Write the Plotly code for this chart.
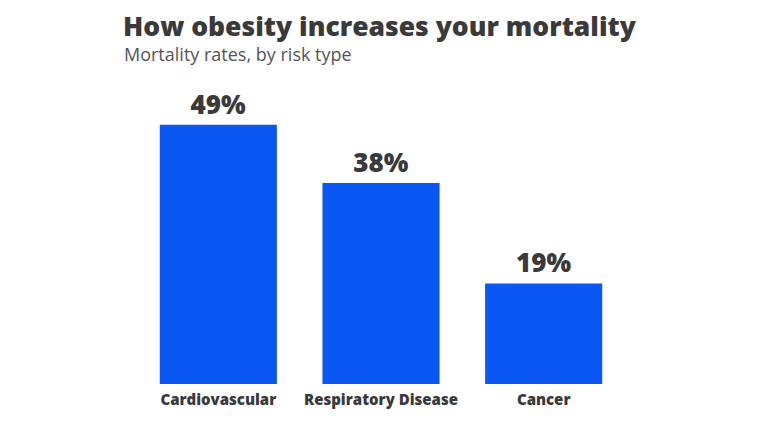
import plotly.graph_objects as go

categories = ["Cardiovascular", "Respiratory Disease", "Cancer"]
values = [49, 38, 19]
value_labels = ["49%", "38%", "19%"]

title_text = "How obesity increases your mortality"
subtitle_text = "Mortality rates, by risk type"

dark = "#3a3a3a"
bar_color = "#0b57f4"
font_bold = "Open Sans"

# page body has an 8px offset; coordinates below compensate
off = 8
pl, pr = 160 - 22.75 - off, 625 - off       # plot x extent in figure px
pt, pb = 93 - off, 384 - off               # plot y extent in figure px

fig = go.Figure(go.Bar(
    x=categories, y=values, text=value_labels,
    textposition="outside", cliponaxis=False,
    textfont=dict(family=font_bold, size=26, color=dark, weight=800),
    marker=dict(color=bar_color, line=dict(width=0)),
    hoverinfo="skip",
))

fig.update_layout(
    width=768, height=440,
    margin=dict(l=pl, r=768 - pr, t=pt, b=440 - pb),
    paper_bgcolor="white", plot_bgcolor="white",
    bargap=0.28,
    showlegend=False,
    title=dict(text=title_text, x=(123 - off) / 768, xref="container", xanchor="left",
               y=1 - (27 - off) / 440, yref="container", yanchor="middle",
               font=dict(family=font_bold, size=26.5, color=dark, weight=800)),
    annotations=[dict(text=subtitle_text, xref="paper", yref="paper",
                      x=(122 - off - pl) / (pr - pl), xanchor="left",
                      y=1 + (pt - (54 - off)) / (pb - pt), yanchor="middle", showarrow=False,
                      font=dict(family="Open Sans", size=18, color="#555555"))],
)
fig.update_xaxes(showline=False, showgrid=False, ticks="", zeroline=False,
                 ticklabelstandoff=5,
                 tickfont=dict(family=font_bold, size=15, color=dark, weight=800))
fig.update_yaxes(visible=False, range=[0, 55], showgrid=False, zeroline=False)

fig.write_html("out.html")
